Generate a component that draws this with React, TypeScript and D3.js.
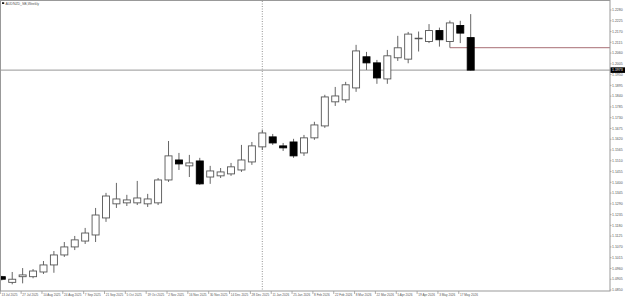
import React from 'react';
import * as d3 from 'd3';

const title = 'AUDNZD_SB,Weekly';

const opens = [1.0918, 1.0889, 1.0918, 1.0918, 1.0942, 1.0978, 1.1029, 1.1070, 1.1100, 1.1131, 1.1218, 1.1290, 1.1295, 1.1295, 1.1290, 1.1295, 1.1412, 1.1514, 1.1484, 1.1509, 1.1427, 1.1433, 1.1443, 1.1463, 1.1504, 1.1581, 1.1632, 1.1586, 1.1606, 1.1550, 1.1627, 1.1688, 1.1811, 1.1821, 1.1882, 1.2041, 1.2010, 1.1928, 1.2036, 1.2029, 1.2133, 1.2119, 1.2175, 1.2119, 1.2201, 1.2139];
const highs = [1.0922, 1.0942, 1.0962, 1.0957, 1.0998, 1.1049, 1.1095, 1.1126, 1.1167, 1.1269, 1.1346, 1.1397, 1.1336, 1.1407, 1.1341, 1.1422, 1.1611, 1.1550, 1.1540, 1.1525, 1.1484, 1.1473, 1.1499, 1.1591, 1.1606, 1.1668, 1.1647, 1.1601, 1.1622, 1.1642, 1.1709, 1.1847, 1.1887, 1.1913, 1.2102, 1.2066, 1.2025, 1.2076, 1.2148, 1.2168, 1.2170, 1.2208, 1.2190, 1.2226, 1.2225, 1.2259];
const lows = [1.0899, 1.0879, 1.0884, 1.0910, 1.0932, 1.0938, 1.1019, 1.1054, 1.1085, 1.1095, 1.1198, 1.1269, 1.1279, 1.1284, 1.1274, 1.1284, 1.1402, 1.1463, 1.1427, 1.1387, 1.1392, 1.1422, 1.1433, 1.1453, 1.1489, 1.1565, 1.1591, 1.1560, 1.1525, 1.1535, 1.1617, 1.1678, 1.1790, 1.1806, 1.1862, 1.1974, 1.1903, 1.1903, 1.2020, 1.2008, 1.2068, 1.2111, 1.2093, 1.2088, 1.2111, 1.1971];
const closes = [1.0905, 1.0905, 1.0927, 1.0947, 1.0978, 1.1029, 1.1070, 1.1106, 1.1141, 1.1233, 1.1330, 1.1315, 1.1310, 1.1320, 1.1315, 1.1412, 1.1535, 1.1494, 1.1499, 1.1392, 1.1458, 1.1453, 1.1479, 1.1514, 1.1586, 1.1652, 1.1601, 1.1576, 1.1535, 1.1627, 1.1693, 1.1836, 1.1841, 1.1898, 1.2071, 1.2010, 1.1933, 1.2046, 1.2087, 1.2157, 1.2136, 1.2175, 1.2128, 1.2214, 1.2162, 1.1973];

const dateLabels = ['13 Jul 2025', '27 Jul 2025', '10 Aug 2025', '24 Aug 2025', '7 Sep 2025', '21 Sep 2025', '5 Oct 2025', '19 Oct 2025', '2 Nov 2025', '16 Nov 2025', '30 Nov 2025', '14 Dec 2025', '28 Dec 2025', '11 Jan 2026', '25 Jan 2026', '8 Feb 2026', '22 Feb 2026', '8 Mar 2026', '22 Mar 2026', '5 Apr 2026', '19 Apr 2026', '3 May 2026', '17 May 2026'];

const priceLabels = ['1.2280', '1.2225', '1.2170', '1.2115', '1.2060', '1.2005', '1.1950', '1.1895', '1.1840', '1.1785', '1.1730', '1.1675', '1.1620', '1.1565', '1.1510', '1.1455', '1.1400', '1.1345', '1.1290', '1.1235', '1.1180', '1.1125', '1.1070', '1.1015', '1.0960', '1.0905', '1.0850'];

const lastPrice = 1.1973;
const levelPrice = 1.2088;
const levelStartIndex = 43;
const separatorIndex = 25;

export default function App() {
  const W = 625;
  const H = 298;
  const plotR = 610;
  const plotB = 291;
  const n = opens.length;
  const x = d3.scaleLinear().domain([0, n - 1]).range([1.8, 470.7]);
  const y = d3.scaleLinear().domain([1.085, 1.228]).range([290, 10]);
  const font = 'Liberation Sans, Arial, sans-serif';
  const bodyW = 7;
  const textCol = '#555';

  return (
    <div style={{ position: 'fixed', left: 0, top: 0 }}>
      <svg width={W} height={H} style={{ display: 'block', background: '#fff' }}>
        <defs>
          <clipPath id="plot">
            <rect x={0.5} y={0.5} width={plotR - 0.5} height={plotB - 0.5} />
          </clipPath>
        </defs>
        <line x1={x(separatorIndex)} x2={x(separatorIndex)} y1={1} y2={plotB} stroke="#777" strokeWidth={0.8} strokeDasharray="1,1.5" />
        <line x1={0.5} x2={plotR} y1={y(lastPrice)} y2={y(lastPrice)} stroke="#8a8a8a" strokeWidth={0.9} />
        <line x1={x(levelStartIndex)} x2={plotR} y1={y(levelPrice)} y2={y(levelPrice)} stroke="#b98a8f" strokeWidth={1.2} />
        <g clipPath="url(#plot)">
          {opens.map((o, i) => {
            const c = closes[i];
            const cx = x(i);
            const top = y(Math.max(o, c));
            const bot = y(Math.min(o, c));
            const bear = c < o;
            return (
              <g key={i}>
                <line x1={cx} x2={cx} y1={y(highs[i])} y2={y(lows[i])} stroke="#555" strokeWidth={0.9} />
                <rect x={cx - bodyW / 2} y={top} width={bodyW} height={Math.max(0.6, bot - top)} fill={bear ? '#000' : '#fff'} stroke={bear ? '#000' : '#555'} strokeWidth={0.9} />
              </g>
            );
          })}
        </g>
        <rect x={0.5} y={0.5} width={plotR - 0.5} height={plotB - 0.5} fill="none" stroke="#999" strokeWidth={1} />
        {priceLabels.map((p) => {
          const yy = y(+p);
          return (
            <g key={p}>
              <line x1={plotR} x2={plotR + 1.5} y1={yy} y2={yy} stroke="#999" strokeWidth={0.8} />
              <text x={612} y={yy + 1.2} fontSize={3.5} fontFamily={font} fill={textCol}>{p}</text>
            </g>
          );
        })}
        <rect x={plotR + 0.5} y={y(lastPrice) - 2.8} width={14.5} height={5.6} fill="#000" />
        <text x={612} y={y(lastPrice) + 1.2} fontSize={3.5} fontFamily={font} fill="#fff">{lastPrice.toFixed(4)}</text>
        {dateLabels.map((d, k) => {
          const xx = x(k * 2) - 1.5;
          return (
            <g key={d}>
              <line x1={xx} x2={xx} y1={plotB} y2={plotB + 3} stroke="#999" strokeWidth={0.8} />
              <text x={xx + 1.2} y={296} fontSize={3.1} fontFamily={font} fill={textCol}>{d}</text>
            </g>
          );
        })}
        <rect x={2} y={2.3} width={2.2} height={1.6} fill="#000" />
        <text x={5.5} y={4.6} fontSize={3.5} fontFamily={font} fill={textCol}>{title}</text>
      </svg>
    </div>
  );
}
